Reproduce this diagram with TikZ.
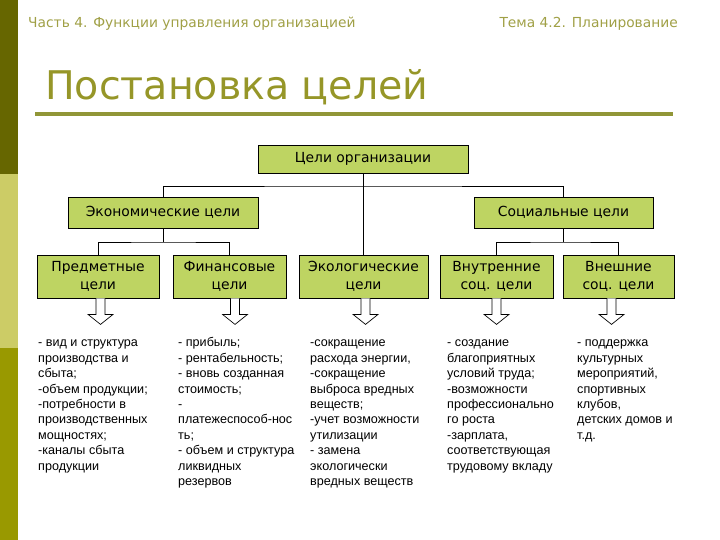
\documentclass[tikz,border=0pt]{standalone}
\usepackage{fontspec}
\setmainfont{Liberation Sans}
\newfontfamily\widesans{DejaVu Sans}
\usepackage{tikz}
\usetikzlibrary{positioning}
\definecolor{boxgreen}{RGB}{190,212,98}
\definecolor{titleolive}{RGB}{150,150,40}
\definecolor{headolive}{RGB}{160,160,70}
\definecolor{ruleolive}{RGB}{145,150,55}
\definecolor{bardark}{RGB}{102,102,0}
\definecolor{barlight}{RGB}{204,204,102}
\definecolor{barmid}{RGB}{153,153,0}

\begin{document}
\begin{tikzpicture}[x=1pt, y=-1pt,
  box/.style={draw, fill=boxgreen, line width=0.8pt, align=center, inner sep=0pt, font=\widesans\fontsize{13.9}{18}\selectfont},
  conn/.style={line width=0.8pt},
  harrow/.style={draw, fill=white, line width=0.7pt},
  txt/.style={anchor=north west, align=left, inner sep=0pt, font=\fontsize{12.6}{15.4}\selectfont},
  head/.style={inner sep=0pt, text=headolive, font=\widesans\fontsize{13.8}{16}\selectfont}
]
\useasboundingbox (0,0) rectangle (720,540);
% side bar
\fill[bardark] (0,0) rectangle (18,174);
\fill[barlight] (0,174) rectangle (18,348);
\fill[barmid] (0,348) rectangle (18,540);

% header and title
\node[head, anchor=base west] (part) at (28,28) {Часть 4. Функции управления организацией};
\node[head, anchor=base east] (topic) at (678,28) {Тема 4.2. Планирование};
\node[anchor=base west, inner sep=0pt, text=titleolive, font=\widesans\fontsize{39.5}{44}\selectfont] (title) at (45,100) {Постановка целей};
\draw[ruleolive, line width=3.3pt] (35,114) -- (673,114);

% boxes
\node[box, minimum width=210, minimum height=28] (org) at (363,159) {Цели организации};
\node[box, minimum width=190, minimum height=31] (econ) at (163,212.5) {Экономические цели};
\node[box, minimum width=179, minimum height=31] (soc) at (563.5,212.5) {Социальные цели};
\node[box, minimum width=122, minimum height=43] (pred) at (98,276.5) {Предметные\\цели};
\node[box, minimum width=113, minimum height=43] (fin) at (229.5,276.5) {Финансовые\\цели};
\node[box, minimum width=129, minimum height=43] (eco) at (363.5,276.5) {Экологические\\цели};
\node[box, minimum width=113, minimum height=43] (vnut) at (496.5,276.5) {Внутренние\\соц. цели};
\node[box, minimum width=111, minimum height=43] (vnesh) at (618.5,276.5) {Внешние\\соц. цели};

% connectors
\coordinate (bus) at (363,186);
\coordinate (ebus) at (163,242);
\coordinate (sbus) at (563.5,242);
\draw[conn] (org.south) -- (org.south |- eco.north);
\draw[conn] (econ.north) |- (bus) -| (soc.north);
\draw[conn] (econ.south) -- (ebus);
\draw[conn] (pred.north) |- (ebus) -| (fin.north);
\draw[conn] (soc.south) -- (sbus);
\draw[conn] (vnut.north) |- (sbus) -| (vnesh.north);

% hollow arrows
\foreach \n/\dx in {pred/2.5, fin/5.5, eco/2, vnut/0, vnesh/-7}
  \draw[harrow] ([xshift=\dx-4.5]\n.south) -- ++(0,16) -- ++(-8,0) -- ++(12.5,10) -- ++(12.5,-10) -- ++(-8,0) -- ++(0,-16);

% lists
\node[txt] (predtxt) at (38,336) {\strut- вид и структура\\производства и\\сбыта;\\-объем продукции;\\-потребности в\\производственных\\мощностях;\\-каналы сбыта\\продукции};
\node[txt] (fintxt) at (178,336) {\strut- прибыль;\\- рентабельность;\\- вновь созданная\\стоимость;\\-\\платежеспособ-нос\\ть;\\- объем и структура\\ликвидных\\резервов};
\node[txt] (ecotxt) at (310,336) {\strut-сокращение\\расхода энергии,\\-сокращение\\выброса вредных\\веществ;\\-учет возможности\\утилизации\\- замена\\экологически\\вредных веществ};
\node[txt] (vnuttxt) at (447,336) {\strut- создание\\благоприятных\\условий труда;\\-возможности\\профессионально\\го роста\\-зарплата,\\соответствующая\\трудовому вкладу};
\node[txt] (vneshtxt) at (577,336) {\strut- поддержка\\культурных\\мероприятий,\\спортивных\\клубов,\\детских домов и\\т.д.};
\end{tikzpicture}
\end{document}
